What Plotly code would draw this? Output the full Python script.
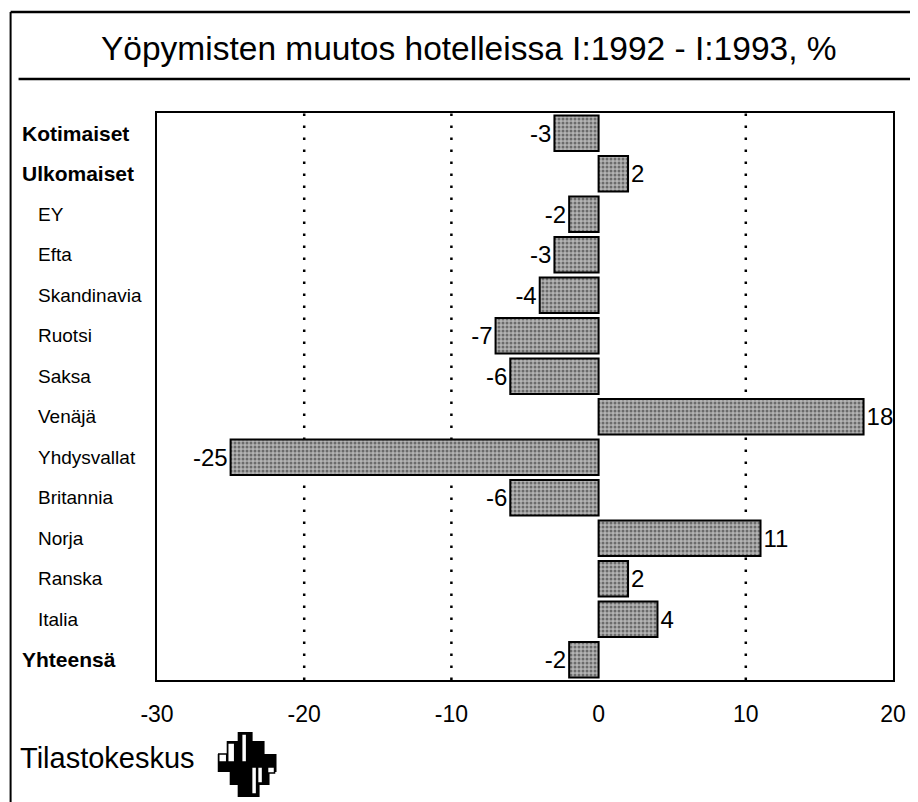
import plotly.graph_objects as go

# ---- data ----
categories = ["Kotimaiset", "Ulkomaiset", "EY", "Efta", "Skandinavia", "Ruotsi", "Saksa",
              "Venäjä", "Yhdysvallat", "Britannia", "Norja", "Ranska", "Italia", "Yhteensä"]
values = [-3, 2, -2, -3, -4, -7, -6, 18, -25, -6, 11, 2, 4, -2]
bold_rows = ["Kotimaiset", "Ulkomaiset", "Yhteensä"]
x_ticks = [-30, -20, -10, 0, 10, 20]
x_tick_labels = ["-30", "-20", "-10", "0", "10", "20"]
grid_vals = [-20, -10, 10]
title_text = "Yöpymisten muutos hotelleissa I:1992 - I:1993, %"
source_text = "Tilastokeskus"

OFF = 8  # page body margin
W, H = 918 - OFF, 802 - OFF
L, R, T, B = 157, 896, 113, 680  # target pixel positions in the window
FONT = "Liberation Sans, Arial, sans-serif"


def px(X):
    return (X - L) / (R - L)


def py(Y):
    return (B - Y) / (B - T)


fig = go.Figure()
fig.add_trace(go.Bar(
    x=values, y=categories, orientation="h",
    marker=dict(color="#8a8a8a", line=dict(color="black", width=2),
                pattern=dict(shape=".", fgcolor="#222222", bgcolor="#b4b4b4",
                             size=4, solidity=0.45)),
    text=[str(v) for v in values], textposition="outside",
    textfont=dict(size=24, color="black", family=FONT),
    constraintext="none", cliponaxis=False, width=0.88,
    showlegend=False, hoverinfo="skip",
))

shapes = []
for g in grid_vals:
    shapes.append(dict(type="line", xref="x", yref="paper", x0=g, x1=g, y0=0, y1=1,
                       line=dict(color="black", width=2.5, dash="2.5px,9.5px"), layer="below"))

# page frame lines
shapes.append(dict(type="line", xref="paper", yref="paper", x0=px(10), x1=px(10), y0=py(12), y1=py(802),
                   line=dict(color="black", width=2)))
shapes.append(dict(type="line", xref="paper", yref="paper", x0=px(10), x1=px(918), y0=py(12), y1=py(12),
                   line=dict(color="black", width=2.5)))
shapes.append(dict(type="line", xref="paper", yref="paper", x0=px(18), x1=px(918), y0=py(79), y1=py(79),
                   line=dict(color="black", width=2.5)))

# logo (window pixel boxes)
black_rects = [(238, 732, 253, 741), (227, 741, 265, 754), (218, 754, 277, 772),
               (230, 772, 270, 785), (238, 785, 260, 797)]
white_rects = [(242, 734, 247, 762), (228, 743, 235, 762), (219, 754, 227, 762),
               (252, 767, 257, 794), (258, 767, 263, 783), (268, 767, 275, 773)]
for x0, y0, x1, y1 in black_rects:
    shapes.append(dict(type="rect", xref="paper", yref="paper", x0=px(x0), x1=px(x1), y0=py(y0), y1=py(y1),
                       fillcolor="black", line=dict(width=0)))
for x0, y0, x1, y1 in white_rects:
    shapes.append(dict(type="rect", xref="paper", yref="paper", x0=px(x0), x1=px(x1), y0=py(y0), y1=py(y1),
                       fillcolor="white", line=dict(color="black", width=1.5)))

annotations = []
n = len(categories)
for i, c in enumerate(categories):
    b = c in bold_rows
    annotations.append(dict(
        text=f"<b>{c}</b>" if b else c, xref="paper", yref="y", x=px(19 if b else 36), y=c,
        xanchor="left", yanchor="middle", showarrow=False,
        font=dict(size=21 if b else 19, color="black", family=FONT)))
annotations.append(dict(text=title_text, xref="paper", yref="paper", x=px(470), y=py(48),
                        xanchor="center", yanchor="middle", showarrow=False,
                        font=dict(size=33.5, color="black", family=FONT)))
annotations.append(dict(text=source_text, xref="paper", yref="paper", x=px(17), y=py(758),
                        xanchor="left", yanchor="middle", showarrow=False,
                        font=dict(size=29, color="black", family=FONT)))

fig.update_layout(
    width=W, height=H,
    margin=dict(l=L - OFF, r=918 - R, t=T - OFF, b=802 - B, pad=0),
    paper_bgcolor="white", plot_bgcolor="white",
    bargap=0.12,
    shapes=shapes, annotations=annotations,
    xaxis=dict(range=[-30, 20], tickvals=x_ticks, ticktext=x_tick_labels,
               showgrid=False, zeroline=False,
               showline=True, linecolor="black", linewidth=2, mirror=True,
               ticks="", ticklabelstandoff=12,
               tickfont=dict(size=23, color="black", family=FONT)),
    yaxis=dict(categoryorder="array", categoryarray=categories, autorange="reversed",
               showticklabels=False, showgrid=False, zeroline=False,
               showline=True, linecolor="black", linewidth=2, mirror=True, ticks=""),
    font=dict(family=FONT, color="black"),
)

fig.write_html("out.html")
